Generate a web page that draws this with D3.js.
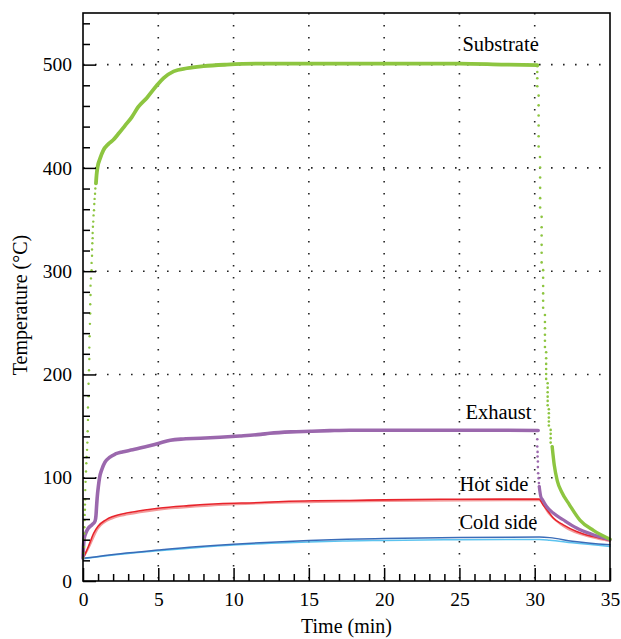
<!DOCTYPE html>
<html>
<head>
<meta charset="utf-8">
<script src="https://cdn.jsdelivr.net/npm/d3@7"></script>
<style>
  body { margin: 0; background: #fff; }
  text { font-family: "Liberation Serif", "Times New Roman", serif; fill: #000; }
  .tick text { font-size: 19.5px; }
  .axis-label { font-size: 20px; }
  .series-label { font-size: 20.5px; }
</style>
</head>
<body>
<svg id="chart"></svg>
<script>
// values: [time (min), temperature (°C)]
var substrateRise = [
  [0.02,22.5],[0.04,27],[0.07,33],[0.07,40],[0.09,46],[0.09,52],[0.11,59],[0.11,64],
  [0.13,69],[0.13,74],[0.15,79],[0.15,88],[0.17,96],[0.2,106],[0.22,114],[0.24,120],
  [0.27,127],[0.29,134],[0.31,145],[0.33,156],[0.33,168],[0.37,179],[0.37,191],[0.4,204],
  [0.42,215],[0.42,226],[0.44,237],[0.46,249],[0.48,259],[0.48,268],[0.5,277],[0.5,286],
  [0.53,293],[0.57,301],[0.57,308],[0.6,315],[0.6,321],[0.62,327],[0.64,332],[0.64,337],
  [0.66,343],[0.68,348],[0.7,354],[0.73,359],[0.75,365],[0.77,370],[0.8,375],[0.82,380],[0.86,385]
];
var substrateMain = [
  [0.86,385],[0.9,393],[0.97,401],[1.13,409],[1.35,417],[1.68,423],[2.0,427],[2.35,433],
  [2.79,441],[3.23,449],[3.67,459],[4.25,468],[4.91,480],[5.35,487],[6.02,493.5],[6.9,496.5],
  [8.0,498.5],[9.56,500],[11.8,501],[15,501],[20,501],[25,501],[28,500],[30.17,499.5]
];
var substrateDrop = [
  [30.17,498.4],[30.17,492.8],[30.17,486.8],[30.17,479],[30.26,470],[30.26,460.6],[30.26,450.7],
  [30.26,441],[30.26,430.6],[30.26,420.7],[30.35,410.6],[30.36,400.4],[30.36,390.7],[30.36,380.7],
  [30.36,370.7],[30.36,361.7],[30.46,352.6],[30.46,342.6],[30.46,334.6],[30.46,325.5],[30.46,317.8],
  [30.46,308.5],[30.56,301],[30.56,293.6],[30.56,285.6],[30.56,278.5],[30.56,271.4],[30.56,264.6],
  [30.68,257.5],[30.68,250.8],[30.68,244.7],[30.68,238.5],[30.68,232.7],[30.68,226.6],[30.76,221.5],
  [30.76,215.7],[30.76,210.2],[30.76,205.3],[30.76,200.5],[30.76,195.7],[30.86,191.5],[30.86,187.2],
  [30.86,182.8],[30.86,178.5],[30.86,174.4],[30.86,170.2],[30.94,166.3],[30.94,162.5],[30.94,158.2],
  [30.94,154.4],[30.94,150.5],[31.06,146.3],[31.06,142.5],[31.06,138.3],[31.06,134],[31.16,130.2]
];
var substrateTail = [
  [31.16,130],[31.3,112],[31.5,97],[31.8,86],[32.3,74],[33,59],[33.9,49],[35,40.5]
];

var exhaustMain = [
  [0,22],[0.03,33],[0.08,41],[0.15,45],[0.35,51],[0.6,54.5],[0.8,58],[0.86,63],[0.9,72],
  [0.95,82],[1.02,91.5],[1.1,100],[1.25,108],[1.46,115],[1.79,120],[2.15,123],[2.6,125],
  [3.3,127],[4.15,130],[5.0,133.2],[5.8,136.2],[6.5,137.4],[7.8,138.2],[9.1,139.2],[10.4,140.4],
  [11.8,142],[12.4,143],[13.8,144.4],[15.1,145],[16.4,145.6],[17.7,146],[20,146],[25,146],[30.23,145.8]
];
var exhaustDrop = [
  [30.17,137.3],[30.17,130.2],[30.19,125],[30.19,120.5],[30.21,115.7],[30.21,110.3],
  [30.23,104.4],[30.26,99.6],[30.28,94.8],[30.3,91.5]
];
var exhaustTail = [
  [30.3,91.5],[30.4,82],[30.52,78.6],[30.79,72.1],[31.23,65.8],[31.89,59.3],[32.78,51.3],[33.88,44.8],[35,39.9]
];

var hotSide = [
  [0,22],[0.2,28],[0.4,35],[0.7,46],[1.0,53],[1.5,59],[2.0,62.5],[3,66],[4,68.5],[5,70.5],
  [7,73],[9,74.8],[11.8,76],[13.3,77],[15.5,77.7],[17.7,78],[20,78.6],[25,79.2],[30.3,79.3],
  [30.55,73.8],[30.9,67.3],[31.23,61],[31.9,54.4],[32.78,48],[33.88,43],[35,39.3]
];
var hotSide2 = [
  [0,22],[0.4,33],[1,51],[2,61],[3,64.5],[5,69],[9,73.5],[15.5,76.5],[20,77.5],[25,78],
  [30.3,78.2],[30.9,66],[31.9,53],[33.88,42],[35,38.5]
];
var coldSide = [
  [0,22],[2.5,26.5],[5,30],[7.5,33.2],[10,35.7],[12.5,37.6],[15,39.2],[17.5,40.4],[20,41.2],
  [25,42.2],[30.3,42.5],[31,42],[32.5,38.5],[35,35]
];
var coldSide2 = [
  [0,21.5],[2.5,26],[5,29.3],[7.5,32.3],[10,34.8],[12.5,36.5],[15,37.8],[17.5,38.7],[20,39.3],
  [25,40],[30.3,40.2],[31,39.5],[32.5,37],[35,33.5]
];

var xTicks = [0, 5, 10, 15, 20, 25, 30, 35];
var yTicks = [0, 100, 200, 300, 400, 500];
var seriesNames = ["Substrate", "Exhaust", "Hot side", "Cold side"];

var margin = {top: 13, right: 11, bottom: 58, left: 83};
var totalW = 621, totalH = 639;
var width = totalW - margin.left - margin.right,
    height = totalH - margin.top - margin.bottom;

var x = d3.scaleLinear().domain([0, 35]).range([0, width]);
var y = d3.scaleLinear().domain([0, 550]).range([height, 0]);

var svg = d3.select("#chart")
    .attr("width", totalW)
    .attr("height", totalH)
  .append("g")
    .attr("transform", "translate(" + margin.left + "," + margin.top + ")");

//Dotted grid
svg.append("g").selectAll("line")
  .data(xTicks.filter(function(d){ return d > 0 && d < 35; }))
  .enter().append("line")
    .attr("x1", function(d){ return x(d); }).attr("x2", function(d){ return x(d); })
    .attr("y1", 0).attr("y2", height)
    .style("stroke", "#222").style("stroke-width", 1.6)
    .style("stroke-dasharray", "1.6,10.4");

svg.append("g").selectAll("line")
  .data(yTicks.filter(function(d){ return d > 0; }))
  .enter().append("line")
    .attr("x1", 0).attr("x2", width)
    .attr("y1", function(d){ return y(d); }).attr("y2", function(d){ return y(d); })
    .style("stroke", "#222").style("stroke-width", 1.6)
    .style("stroke-dasharray", "1.6,10.4");

//Lines
var line = d3.line()
  .x(function(d){ return x(d[0]); })
  .y(function(d){ return y(d[1]); })
  .curve(d3.curveMonotoneX);

function drawLine(data, color, w){
  svg.append("path")
    .datum(data)
    .attr("d", line)
    .style("fill", "none")
    .style("stroke", color)
    .style("stroke-width", w)
    .style("stroke-linejoin", "round")
    .style("stroke-linecap", "round");
}
function drawDots(data, color, r){
  svg.append("g").selectAll("circle")
    .data(data)
    .enter().append("circle")
      .attr("cx", function(d){ return x(d[0]); })
      .attr("cy", function(d){ return y(d[1]); })
      .attr("r", r)
      .style("fill", color);
}

drawLine(coldSide2, "#5cc3ef", 1.5);
drawLine(coldSide, "#3a6cb8", 1.5);
drawLine(hotSide2, "#f39a9a", 2);
drawLine(hotSide, "#e8232b", 1.6);

drawLine(exhaustMain, "#9b68ad", 3.6);
drawDots(exhaustDrop, "#9b68ad", 1.3);
drawLine(exhaustTail, "#9b68ad", 3.2);

drawDots(substrateRise, "#8dc540", 1.2);
drawLine(substrateMain, "#8dc540", 3.8);
drawDots(substrateDrop, "#8dc540", 1.3);
drawLine(substrateTail, "#8dc540", 3.4);

//Axes with inward ticks
var minorY = d3.range(0, 551, 20).filter(function(d){ return d % 100 !== 0; });
var minorX = d3.range(0, 36, 1).filter(function(d){ return d % 5 !== 0; });

svg.append("g")
  .call(d3.axisLeft(y).tickValues(minorY).tickSize(-7).tickFormat(""))
  .call(function(g){ g.select(".domain").remove(); });
svg.append("g")
  .call(d3.axisLeft(y).tickValues(yTicks).tickSize(-13).tickPadding(11))
  .call(function(g){ g.select(".domain").remove(); });

svg.append("g")
  .attr("transform", "translate(0," + height + ")")
  .call(d3.axisBottom(x).tickValues(minorX).tickSize(-7).tickFormat(""))
  .call(function(g){ g.select(".domain").remove(); });
svg.append("g")
  .attr("transform", "translate(0," + height + ")")
  .call(d3.axisBottom(x).tickValues(xTicks).tickSize(-13).tickPadding(11))
  .call(function(g){ g.select(".domain").remove(); });

svg.selectAll(".tick line").style("stroke", "#000").style("stroke-width", 1.5);
svg.selectAll(".tick text").style("font-family", "Liberation Serif");

//Frame
svg.append("rect")
  .attr("width", width).attr("height", height)
  .style("fill", "none").style("stroke", "#000").style("stroke-width", 1.6);

//Series labels
var labelPos = [[25.2, 513], [25.4, 157], [25.0, 87], [25.0, 50]];
svg.append("g").selectAll("text")
  .data(seriesNames)
  .enter().append("text")
    .attr("class", "series-label")
    .attr("x", function(d, i){ return x(labelPos[i][0]); })
    .attr("y", function(d, i){ return y(labelPos[i][1]); })
    .text(function(d){ return d; });

//Axis labels
svg.append("text")
  .attr("class", "axis-label")
  .attr("text-anchor", "middle")
  .attr("transform", "translate(" + (width / 2) + "," + (height + 52) + ")")
  .text("Time (min)");

svg.append("text")
  .attr("class", "axis-label")
  .attr("text-anchor", "middle")
  .attr("transform", "translate(" + (-56) + "," + (height / 2 + 8) + ") rotate(-90)")
  .text("Temperature (°C)");
</script>
</body>
</html>
